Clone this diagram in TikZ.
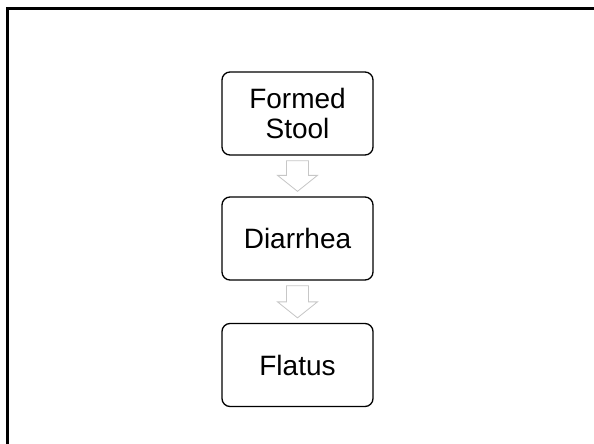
\documentclass[tikz,border=0pt]{standalone}
\usepackage{fontspec}
\setmainfont{Liberation Sans}
\usetikzlibrary{calc}
\tikzset{
  stagebox/.style={draw=black, line width=1.3pt, rounded corners=8pt, fill=white,
    minimum width=151pt, minimum height=83pt, align=center, inner sep=0pt,
    font=\fontsize{28}{29.5}\selectfont},
  flowarrow/.style={draw=black!22, line width=0.8pt, fill=white, line join=miter}
}
% block arrow pointing down from node #1 to node #2
\newcommand{\blockdown}[2]{%
  \draw[flowarrow]
    ($(#1.south)+(-11pt,-5pt)$) -- ($(#1.south)+(11pt,-5pt)$)
    -- ($(#2.north)+(11pt,21pt)$) -- ($(#2.north)+(20pt,21pt)$)
    -- ($(#2.north)+(0pt,5pt)$)
    -- ($(#2.north)+(-20pt,21pt)$) -- ($(#2.north)+(-11pt,21pt)$) -- cycle;}
\begin{document}
\begin{tikzpicture}[x=1pt, y=-1pt]
  \useasboundingbox (0,0) rectangle (594,444);
  % frame (only top and left edges fall inside the page)
  \draw[line width=2.6pt] (7.5,460) -- (7.5,8.5) -- (610,8.5);
  \node[stagebox] (formed) at (297.5,113.5) {Formed\\Stool};
  \node[stagebox] (diarrhea) at (297.5,238.5) {Diarrhea};
  \node[stagebox] (flatus) at (297.5,365) {Flatus};
  \blockdown{formed}{diarrhea}
  \blockdown{diarrhea}{flatus}
\end{tikzpicture}
\end{document}
